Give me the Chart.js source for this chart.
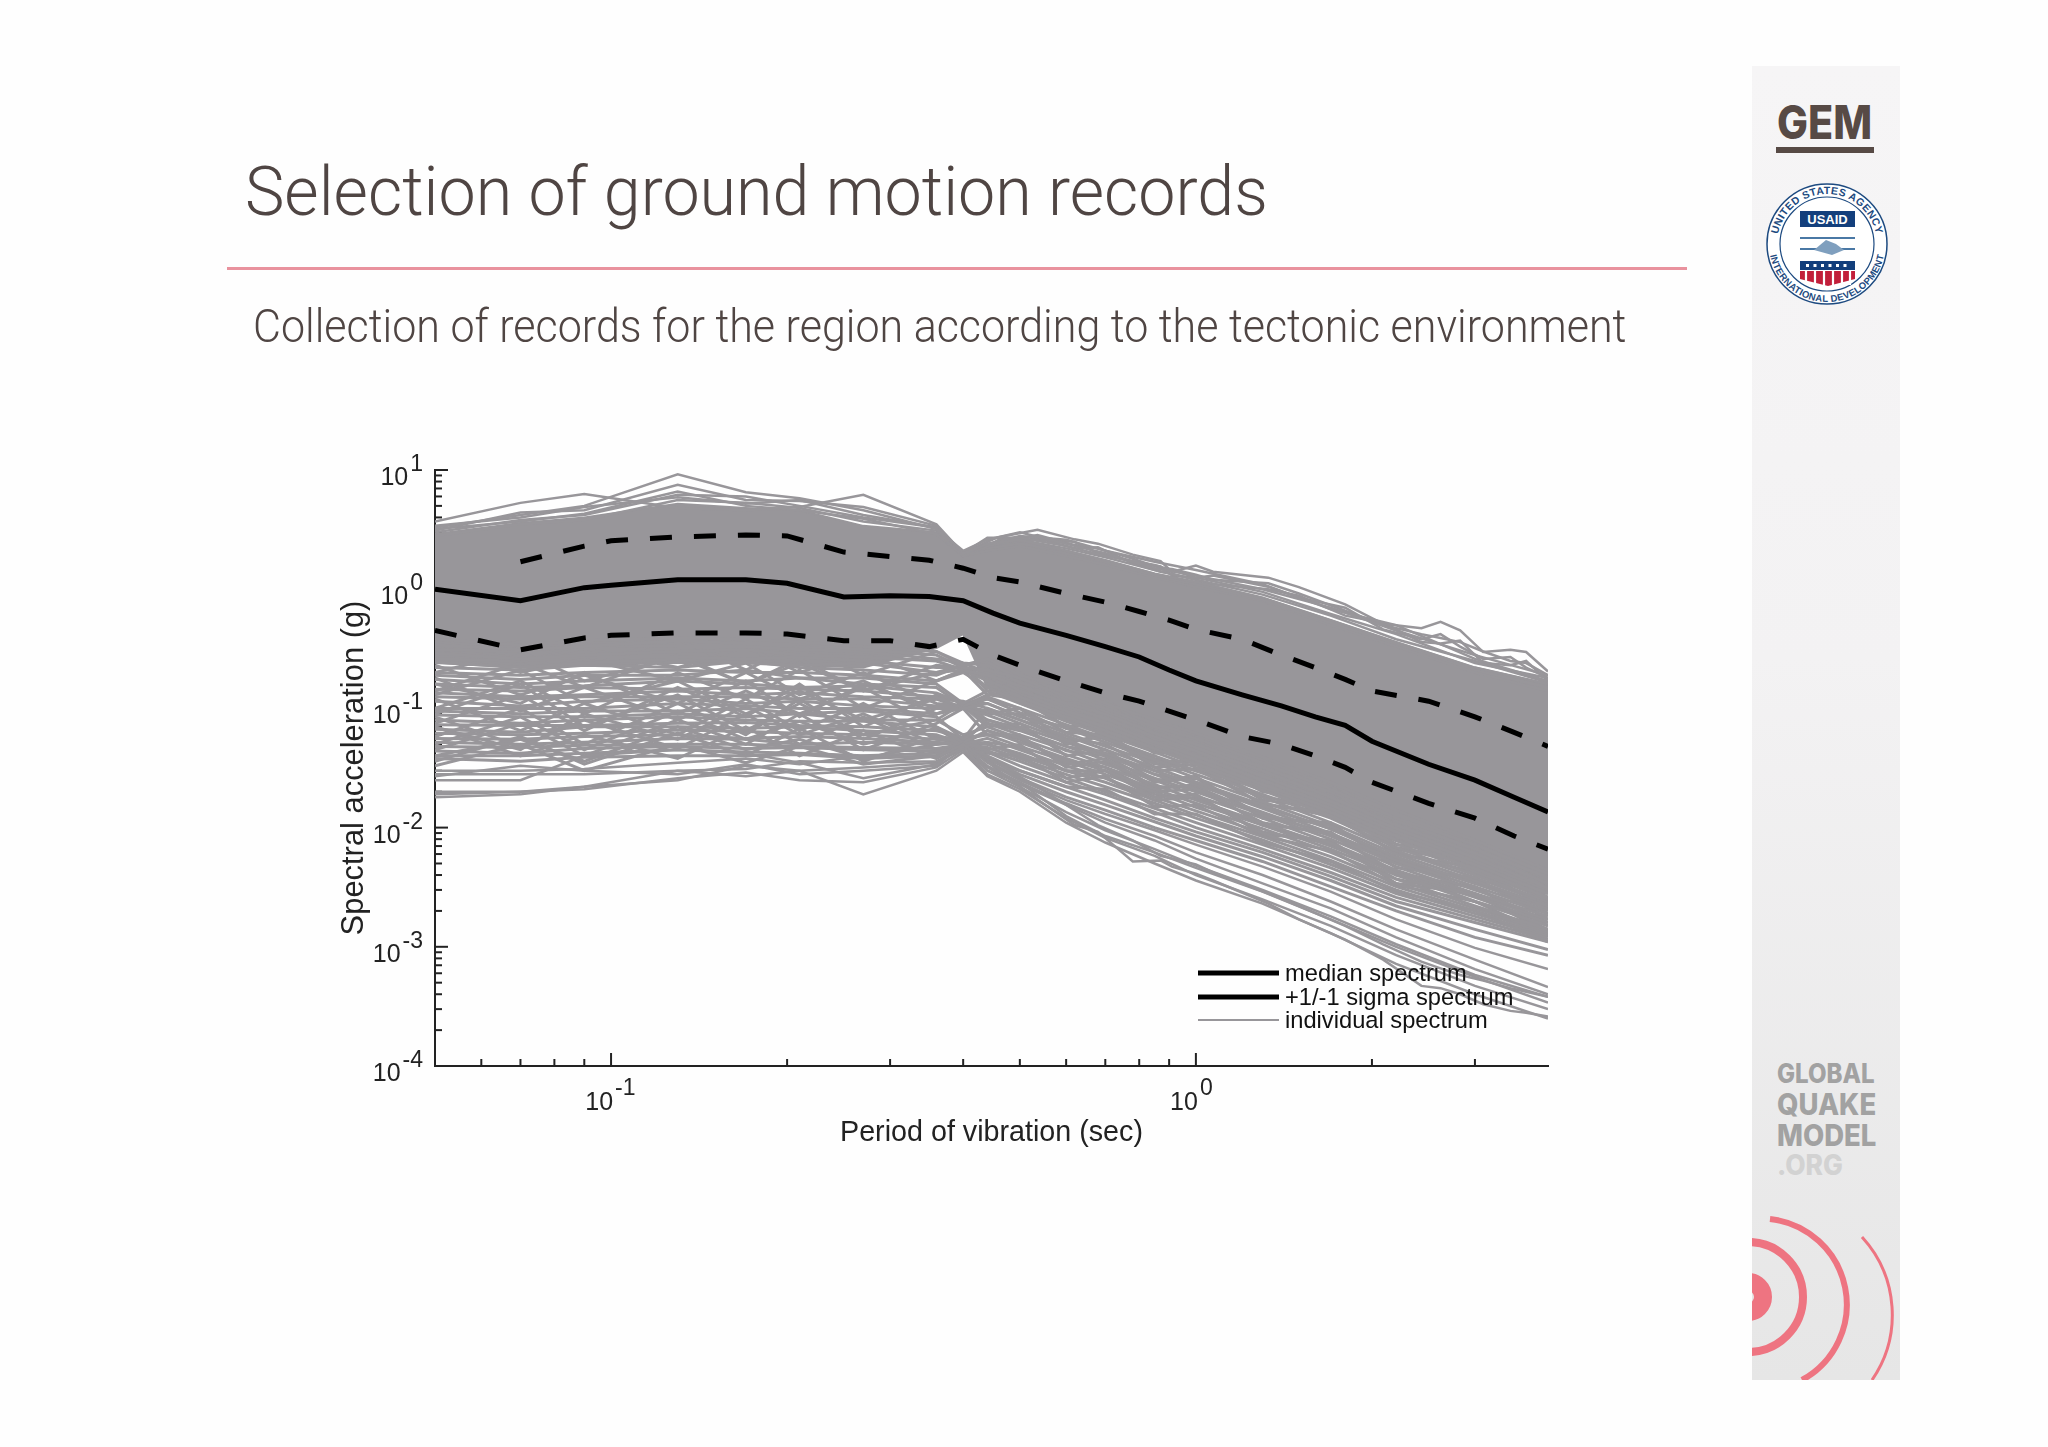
<!DOCTYPE html>
<html>
<head>
<meta charset="utf-8">
<script src="https://cdn.jsdelivr.net/npm/chart.js@4"></script>
<style>
body{margin:0;background:#fefefe;width:2048px;height:1447px;overflow:hidden;position:relative}
#c{position:absolute;left:0;top:0}
.head{position:absolute;white-space:nowrap;color:#4f4543;font-family:Roboto;font-weight:300;line-height:1;transform-origin:left top}
#rule{position:absolute;left:227px;top:267px;width:1460px;height:3px;background:#e9929e}
#side{position:absolute;left:1752px;top:66px;width:148px;height:1314px;background:linear-gradient(#f6f5f6,#f3f2f3 45%,#e6e6e6)}
.logo{position:absolute;left:1777px;font-family:Inter;font-weight:800;line-height:1;white-space:nowrap;transform-origin:left top}
#gemline{position:absolute;left:1776px;top:147px;width:98px;height:6px;background:#574a45}
#marks{position:absolute;left:0;top:0}
</style>
</head>
<body>
<canvas id="c" width="2048" height="1447"></canvas>
<div class="head" id="t1" style="left:245px;top:157px;font-size:69px">Selection of ground motion records</div>
<div id="rule"></div>
<div class="head" id="t2" style="left:253px;top:303px;font-size:46px">Collection of records for the region according to the tectonic environment</div>
<div id="side"></div>
<div class="logo" id="gem" style="top:99px;font-size:46px;color:#574a45">GEM</div>
<div id="gemline"></div>
<div class="logo" id="g1" style="top:1060px;font-size:27px;color:#a2a2a2">GLOBAL</div>
<div class="logo" id="g2" style="top:1089px;font-size:30px;color:#a2a2a2">QUAKE</div>
<div class="logo" id="g3" style="top:1120px;font-size:30px;color:#a2a2a2">MODEL</div>
<div class="logo" id="g4" style="top:1151px;font-size:28px;color:#d2d2d2">.ORG</div>
<svg id="marks" width="2048" height="1447">
<defs>
<clipPath id="sc"><rect x="1752" y="66" width="148" height="1314"/></clipPath>
<path id="arcTop" d="M1777 244a50 50 0 0 1 100 0"/>
<path id="arcBot" d="M1769 244a58 58 0 0 0 116 0"/>
</defs>
<circle cx="1827" cy="244" r="60" fill="#fff" stroke="#1d4a80" stroke-width="1.5"/>
<circle cx="1827" cy="244" r="47" fill="#fff" stroke="#1d4a80" stroke-width="1.2"/>
<text font-family="Liberation Sans" font-weight="700" font-size="10.5" fill="#1d4a80" letter-spacing=".4"><textPath href="#arcTop" startOffset="50%" text-anchor="middle">UNITED STATES AGENCY</textPath></text>
<text font-family="Liberation Sans" font-weight="700" font-size="9.5" fill="#1d4a80" letter-spacing=".3"><textPath href="#arcBot" startOffset="50%" text-anchor="middle">INTERNATIONAL DEVELOPMENT</textPath></text>
<rect x="1800" y="211" width="55" height="16" fill="#133f7c"/>
<text x="1827.5" y="224" text-anchor="middle" font-family="Liberation Sans" font-weight="700" font-size="13" fill="#fff">USAID</text>
<path d="M1800 238h55M1800 249h55" stroke="#4a78a5" stroke-width="2" fill="none"/>
<path d="M1814 250l12-10 10 4 8 6-12 5z" fill="#7f9fbe"/>
<rect x="1800" y="261" width="55" height="9" fill="#133f7c"/>
<path d="M1806 265.500h44" stroke="#fff" stroke-width="3" stroke-dasharray="3 4.500"/>
<path d="M1800 271h55v8l-27 7-28-7z" fill="#c21f3a"/>
<path d="M1806 271v14M1815 271v15M1824 271v16M1833 271v16M1842 271v15M1850 271v14" stroke="#fff" stroke-width="2.2"/>
<g clip-path="url(#sc)" fill="none" stroke="#ee7481">
<circle cx="1748" cy="1297" r="15" stroke-width="18"/>
<circle cx="1748" cy="1297" r="55" stroke-width="8"/>
<path d="M1770 1219A86 86 0 0 1 1802 1380" stroke-width="6"/>
<path d="M1862 1237A115 115 0 0 1 1872 1380" stroke-width="3"/>
</g>
</svg>
<script>
// periods (sec) of the individual spectra
const periods=[0.05,0.07,0.09,0.13,0.17,0.21,0.27,0.36,0.4,0.44,0.5,0.6,0.7,0.85,1,1.3,1.7,2.2,3,4]
// solid part of the bundle, too dense to see single records
const coreTop=[2.9,3.6,4,5.2,4.8,4.6,3.4,3,1.9,2.3,2.6,2.1,1.75,1.35,1.15,.85,.55,.36,.22,.16]
const coreBottom=[.24,.22,.23,.24,.24,.23,.22,.32,.42,.15,.11,.08,.06,.045,.034,.021,.0125,.008,.0045,.0028]
// records sticking out over the top of the bundle
const spectraUpper=[
[3.7,5.3,6.3,4.8,4.6,4.9,6.2,3.5,2,2.4,2.6,2.1,1.75,1.35,1.15,.85,.55,.36,.22,.16],
[3.3,4.2,5,9.2,6.5,5.8,4.6,3.2,2.1,2.6,3,2.4,2,1.5,1.3,1,.7,.45,.28,.19],
[3.1,4.4,4.6,7.5,5.6,5.5,4.9,3.4,1.95,2.4,2.8,2.6,2.1,1.7,1.45,1.1,.68,.5,.26,.17],
[3,3.8,4.2,6.2,6,5,4,3.3,2,2.7,2.7,2.3,1.9,1.6,1.25,.95,.62,.42,.24,.18],
[2.8,3.5,3.8,5.6,5.3,4.8,3.7,3.1,1.9,2.3,2.6,2.2,1.85,1.45,1.2,.9,.6,.38,.25,.165],
[3.4,4,4.9,5.9,5.2,5.6,4.2,3.3,2,2.2,2.4,2.1,1.7,1.3,1.1,.82,.52,.35,.21,.15],
[3.2,3.7,4.3,6.6,5,4.6,3.9,2.9,1.9,2.1,2.3,1.9,1.6,1.25,1.05,.8,.5,.33,.2,.14]
]
// records under the solid part
const spectraMiddle=[
[.38,.34,.37,.39,.38,.36,.33,.3,.23,.26,.19,.15,.11,.08,.062,.039,.024,.014,.0078,.0044],
[.34,.31,.33,.37,.35,.35,.31,.28,.22,.21,.18,.125,.1,.07,.056,.035,.021,.012,.0072,.0041],
[.31,.3,.34,.33,.33,.31,.3,.26,.24,.23,.165,.13,.095,.068,.05,.032,.02,.0115,.0066,.0038],
[.29,.26,.28,.3,.31,.28,.27,.25,.21,.19,.155,.11,.09,.062,.047,.03,.018,.0105,.0061,.0034],
[.26,.25,.27,.27,.26,.27,.25,.22,.22,.2,.14,.105,.082,.058,.044,.027,.0165,.0098,.0056,.0031],
[.245,.22,.24,.26,.24,.23,.24,.2,.21,.17,.135,.095,.076,.052,.04,.025,.0155,.0092,.0052,.003],
[.22,.21,.23,.22,.25,.22,.21,.19,.23,.175,.125,.09,.07,.05,.037,.023,.0145,.0085,.0049,.0028],
[.2,.19,.2,.21,.2,.2,.19,.17,.2,.15,.115,.085,.065,.046,.034,.022,.0135,.0078,.0045,.0026],
[.19,.175,.19,.19,.21,.18,.18,.16,.11,.14,.11,.078,.06,.043,.032,.0205,.0125,.0073,.0043,.0025],
[.175,.16,.17,.18,.17,.18,.16,.15,.105,.125,.1,.073,.056,.04,.03,.019,.012,.0068,.004,.0024],
[.16,.15,.155,.17,.16,.15,.155,.135,.11,.12,.092,.068,.052,.037,.028,.018,.011,.0064,.0038,.0023],
[.145,.14,.15,.145,.15,.145,.14,.125,.1,.11,.086,.062,.048,.035,.026,.0165,.0103,.006,.0036,.0022],
[.135,.125,.13,.14,.13,.135,.125,.12,.115,.1,.08,.059,.045,.032,.024,.0155,.0097,.0057,.0034,.0021],
[.125,.12,.125,.125,.125,.12,.12,.105,.105,.095,.075,.054,.042,.03,.023,.0145,.009,.0053,.0032,.002],
[.115,.105,.115,.12,.11,.115,.105,.1,.1,.088,.07,.052,.04,.028,.021,.0135,.0085,.005,.003,.0019],
[.1,.1,.1,.11,.105,.1,.1,.09,.11,.08,.066,.048,.037,.026,.02,.0128,.008,.0047,.0028,.0018],
[.095,.09,.095,.095,.1,.09,.095,.085,.055,.075,.06,.045,.034,.025,.0185,.012,.0074,.0044,.0027,.0017],
[.088,.085,.085,.09,.085,.09,.08,.08,.06,.07,.056,.041,.032,.023,.017,.011,.007,.0042,.0026,.0016],
[.08,.075,.08,.085,.08,.078,.078,.07,.052,.065,.052,.038,.03,.021,.016,.0105,.0066,.004,.0024,.0015],
[.073,.072,.072,.075,.076,.072,.07,.065,.057,.06,.048,.036,.028,.02,.0148,.0098,.0062,.0037,.0022,.0014],
[.067,.063,.07,.07,.068,.07,.065,.06,.05,.056,.045,.033,.026,.018,.0138,.009,.0057,.0034,.0021,.00135],
[.062,.06,.062,.066,.064,.062,.06,.055,.055,.05,.04,.03,.024,.017,.0128,.0084,.0053,.0032,.002,.0013],
[.056,.055,.058,.06,.056,.058,.056,.052,.05,.047,.038,.028,.022,.016,.012,.0079,.0049,.003,.0019,.00125],
[.052,.05,.052,.056,.055,.05,.052,.05,.052,.044,.036,.026,.02,.0145,.011,.0072,.0046,.0028,.0018,.0012],
[.048,.047,.049,.05,.05,.048,.047,.046,.05,.043,.033,.024,.019,.0135,.01,.0066,.0042,.0026,.0017,.00115],
[.044,.042,.046,.048,.046,.047,.045,.044,.048,.04,.03,.022,.017,.012,.0092,.0062,.0039,.0024,.0016,.0011],
[.04,.04,.042,.045,.043,.042,.04,.042,.05,.038,.028,.02,.0155,.0112,.0085,.0057,.0036,.0022,.0014,.00095],
[.038,.036,.039,.04,.04,.041,.038,.04,.052,.036,.026,.018,.014,.01,.0078,.0052,.0032,.002,.0012,.00085]
]
// jagged records, they cross the others and close most of the gaps
const spectraCrossing=[
[.33,.2,.26,.17,.24,.13,.2,.11,.105,.13,.12,.07,.075,.042,.045,.021,.019,.0078,.0062,.0029],
[.14,.24,.15,.28,.16,.26,.14,.23,.22,.15,.16,.08,.095,.05,.05,.024,.021,.0085,.0068,.0031],
[.23,.13,.19,.11,.2,.12,.17,.09,.1,.12,.1,.063,.06,.036,.036,.018,.015,.0068,.0052,.0025],
[.1,.17,.09,.2,.12,.21,.1,.17,.21,.13,.14,.068,.08,.043,.041,.02,.017,.0072,.0058,.0026],
[.18,.095,.15,.08,.14,.09,.15,.07,.055,.1,.08,.056,.05,.03,.031,.016,.0125,.0062,.0042,.0022],
[.075,.13,.065,.15,.085,.16,.07,.13,.11,.09,.1,.052,.058,.032,.034,.0155,.0135,.006,.0046,.0021],
[.12,.065,.11,.06,.12,.065,.11,.055,.052,.08,.068,.044,.04,.024,.026,.0125,.0105,.005,.0036,.0019],
[.058,.1,.05,.11,.06,.12,.055,.1,.105,.07,.075,.04,.045,.025,.027,.012,.011,.0046,.0038,.0017],
[.085,.048,.08,.046,.09,.05,.085,.045,.05,.065,.055,.036,.032,.02,.021,.011,.0088,.0042,.0031,.0016],
[.045,.075,.04,.08,.05,.09,.045,.075,.1,.06,.06,.032,.036,.021,.023,.0105,.0092,.004,.0032,.0015],
[.07,.04,.06,.038,.07,.04,.065,.038,.05,.05,.042,.03,.026,.017,.018,.0092,.0074,.0037,.0027,.0014],
[.036,.058,.034,.062,.04,.068,.036,.058,.055,.045,.05,.026,.03,.018,.019,.0088,.0078,.0034,.0028,.0013],
[.3,.36,.24,.38,.21,.34,.19,.3,.24,.2,.2,.11,.12,.062,.058,.03,.024,.0105,.0075,.0036],
[.37,.25,.32,.22,.33,.2,.29,.17,.21,.18,.17,.09,.1,.055,.052,.026,.022,.0092,.007,.0033],
[.2,.3,.17,.27,.16,.24,.14,.2,.23,.14,.15,.09,.085,.052,.047,.028,.018,.01,.0064,.0037],
[.16,.11,.2,.09,.17,.085,.16,.1,.11,.11,.085,.07,.055,.038,.03,.022,.0125,.0078,.0045,.0028],
[.13,.21,.11,.17,.09,.14,.08,.12,.1,.09,.09,.05,.062,.034,.036,.017,.0145,.0066,.005,.0024],
[.09,.16,.07,.13,.065,.11,.06,.08,.11,.075,.065,.048,.042,.028,.024,.015,.0098,.0055,.0034,.0021],
[.07,.045,.09,.055,.105,.06,.09,.05,.055,.06,.058,.034,.038,.022,.022,.013,.0088,.0052,.003,.0019],
[.05,.085,.045,.095,.055,.078,.05,.068,.05,.052,.047,.03,.03,.019,.0175,.0105,.0072,.0043,.0024,.0016],
[.04,.055,.036,.07,.045,.055,.038,.05,.052,.042,.04,.024,.027,.015,.0155,.0085,.0064,.0033,.0024,.00125],
[.033,.05,.03,.05,.035,.048,.034,.04,.048,.037,.03,.022,.021,.013,.013,.0075,.0052,.0029,.002,.0011]
]
// weakest records, lower edge of the bundle
const spectraLower=[
[.03,.03,.031,.035,.038,.034,.04,.039,.05,.035,.025,.017,.013,.0095,.0072,.0047,.0029,.0017,.00098,.00065],
[.028,.028,.028,.03,.031,.036,.035,.036,.048,.033,.024,.016,.0118,.0085,.0062,.004,.0024,.0014,.00078,.00046],
[.027,.033,.03,.028,.034,.028,.03,.033,.05,.032,.023,.0155,.011,.0078,.0055,.0034,.0021,.0012,.00065,.0004],
[.02,.02,.022,.03,.027,.03,.032,.035,.046,.03,.022,.0135,.0095,.0066,.0048,.003,.0018,.00105,.00058,.00038],
[.019,.02,.021,.026,.029,.025,.024,.032,.045,.028,.021,.012,.0082,.0058,.004,.0025,.0015,.00085,.00047,.0003],
[.018,.019,.022,.025,.033,.03,.019,.03,.043,.027,.02,.011,.0075,.005,.0036,.0023,.0013,.00072,.0004,.00025],
[.025,.025,.04,.045,.042,.035,.026,.034,.05,.03,.024,.0125,.0085,.0062,.0046,.0029,.0017,.001,.00056,.00034]
]
// wavy records on the outside of the bundle, long periods, read on a finer grid
const edgePeriods=[.4,.44,.46,.536,.62,.68,.78,.87,.91,1,1.07,1.33,1.5,1.8,2.09,2.43,2.62,2.83,3.1,3.45,3.67,4]
const edgeTop=[
[2,2.5,2.73,3.15,2.62,2.41,1.95,1.72,1.4,1.58,1.4,1.25,1.04,.746,.512,.471,.533,.451,.297,.31,.297,.204],
[1.9,2.4,2.5,2.85,2.35,2.2,1.8,1.5,1.48,1.32,1.2,1.12,.92,.66,.5,.42,.39,.36,.3,.25,.24,.19],
[2,2.3,2.6,2.6,2.5,2,1.7,1.55,1.3,1.25,1.3,1.05,.85,.7,.46,.38,.42,.33,.26,.27,.22,.18],
[1.95,2.2,2.3,2.7,2.2,2.25,1.65,1.4,1.35,1.2,1.1,1,.88,.6,.52,.36,.35,.37,.24,.23,.25,.17]
]
const edgeBottom=[
[.052,.036,.03,.0172,.0105,.0092,.0052,.0053,.0047,.0041,.0036,.0023,.0017,.00115,.00078,.00047,.00045,.0004,.00033,.00029,.00028,.00026],
[.05,.04,.034,.022,.014,.0105,.0078,.0058,.0055,.0049,.0042,.0028,.0022,.0015,.00105,.00075,.00066,.00058,.00052,.00045,.00042,.00038]
]
// median and +/- sigma curves
const statPeriods=[.05,.07,.09,.1,.13,.17,.2,.25,.3,.35,.4,.45,.5,.6,.7,.8,.9,1,1.2,1.4,1.6,1.8,2,2.5,3,3.5,4]
const medianSpectrum=[1,.8,1.03,1.08,1.2,1.2,1.12,.86,.88,.87,.8,.63,.52,.41,.33,.27,.21,.17,.13,.105,.085,.072,.053,.034,.025,.018,.0135]
const sigmaUpper=[null,1.7,2.3,2.55,2.75,2.85,2.8,2.05,1.88,1.75,1.5,1.25,1.15,.92,.78,.65,.55,.46,.38,.28,.22,.175,.14,.115,.085,.063,.048]
const sigmaLower=[.45,.31,.39,.41,.43,.43,.42,.37,.37,.33,.38,.28,.23,.17,.135,.115,.095,.08,.058,.05,.04,.032,.024,.016,.012,.0085,.0066]
// axes
const xMajor=[.1,1]
const xMajorExp=['-1','0']
const xMinor=[.06,.07,.08,.09,.2,.3,.4,.5,.6,.7,.8,.9,2,3]
const yMajor=[10,1,.1,.01,.001,.0001]
const yMajorExp=['1','0','-1','-2','-3','-4']
const yMinorSteps=[2,3,4,5,6,7,8,9]
const legendLabels=['median spectrum','+1/-1 sigma spectrum','individual spectrum']

const GREY='#98969a'
const pts=(xs,ys)=>xs.map((x,i)=>({x:x,y:ys[i]}))

let datasets=[
 {data:pts(statPeriods,medianSpectrum),borderColor:'#000',borderWidth:5},
 {data:pts(statPeriods,sigmaUpper),borderColor:'#000',borderWidth:5,borderDash:[22,22]},
 {data:pts(statPeriods,sigmaLower),borderColor:'#000',borderWidth:5,borderDash:[22,22]}
]
spectraUpper.concat(spectraLower).forEach(s=>datasets.push({data:pts(periods,s),borderColor:GREY,borderWidth:2.5}))
spectraMiddle.concat(spectraCrossing).forEach(s=>datasets.push({data:pts(periods,s),borderColor:GREY,borderWidth:3}))
edgeTop.concat(edgeBottom).forEach(s=>datasets.push({data:pts(edgePeriods,s),borderColor:GREY,borderWidth:2.5}))
datasets.push({data:pts(periods,coreTop),borderColor:GREY,borderWidth:2,fill:'+1',backgroundColor:GREY})
datasets.push({data:pts(periods,coreBottom),borderColor:GREY,borderWidth:2})

// matlab style ticks: pointing inwards and under the curves
const inwardTicks={id:'inwardTicks',beforeDatasetsDraw(chart){
 const c=chart.ctx,x=chart.scales.x,y=chart.scales.y
 c.save();c.strokeStyle='#222';c.lineWidth=2
 const tx=(v,l)=>{const p=x.getPixelForValue(v);c.beginPath();c.moveTo(p,y.bottom);c.lineTo(p,y.bottom-l);c.stroke()}
 const ty=(v,l)=>{const p=y.getPixelForValue(v);c.beginPath();c.moveTo(x.left,p);c.lineTo(x.left+l,p);c.stroke()}
 xMajor.forEach(v=>tx(v,13));xMinor.forEach(v=>tx(v,7))
 yMajor.forEach(v=>ty(v,13))
 yMajor.slice(1).forEach(v=>yMinorSteps.forEach(m=>ty(v*m,7)))
 c.restore()
}}

// tick labels with raised exponent, and the legend box
const powerLabels={id:'powerLabels',afterDraw(chart){
 const c=chart.ctx,x=chart.scales.x,y=chart.scales.y
 c.save();c.fillStyle='#222';c.textBaseline='alphabetic';c.textAlign='left'
 c.font='25px "Liberation Sans"'
 const w10=c.measureText('10').width
 yMajor.forEach((v,i)=>{
  const p=y.getPixelForValue(v)
  c.font='23px "Liberation Sans"'
  const we=c.measureText(yMajorExp[i]).width
  c.fillText(yMajorExp[i],423-we,p+1)
  c.font='25px "Liberation Sans"'
  c.fillText('10',423-we-w10-2,p+15)
 })
 xMajor.forEach((v,i)=>{
  const p=x.getPixelForValue(v)
  c.font='25px "Liberation Sans"'
  c.fillText('10',p-w10+2,1110)
  c.font='23px "Liberation Sans"'
  c.fillText(xMajorExp[i],p+4,1095)
 })
 // legend
 const ly=[973,997,1020]
 legendLabels.forEach((t,i)=>{
  c.strokeStyle=i==2?GREY:'#000';c.lineWidth=i==2?2.2:5
  c.beginPath();c.moveTo(1198,ly[i]);c.lineTo(1279,ly[i]);c.stroke()
  c.fillStyle='#111';c.font='23.700px "Liberation Sans"'
  c.fillText(t,1285,ly[i]+8)
 })
 c.restore()
}}

new Chart(document.getElementById('c'),{
 type:'line',
 data:{datasets:datasets},
 options:{
  responsive:false,animation:false,devicePixelRatio:1,
  parsing:false,
  layout:{padding:{left:336,right:500,top:470,bottom:297}},
  elements:{point:{radius:0},line:{tension:0,fill:false}},
  plugins:{legend:{display:false},tooltip:{enabled:false}},
  scales:{
   x:{type:'logarithmic',min:.05,max:4,grid:{display:false},
    border:{display:true,color:'#222',width:2},
    ticks:{display:false},
    title:{display:true,text:'Period of vibration (sec)',color:'#222',padding:0,font:{family:'Liberation Sans',size:28.7}},
    afterFit(s){s.height=84}},
   y:{type:'logarithmic',min:.0001,max:10,grid:{display:false},
    border:{display:true,color:'#222',width:2},
    ticks:{display:false},
    title:{display:true,text:'Spectral acceleration (g)',color:'#222',padding:0,font:{family:'Liberation Sans',size:30.9}},
    afterFit(s){s.width=99}}
  }
 },
 plugins:[inwardTicks,powerLabels]
})

// squeeze the heading fonts to the width they have in the slide
function fitWidth(id,w,h){const e=document.getElementById(id);e.style.transform='scale('+(w/e.offsetWidth)+','+(h||1)+')'}
fitWidth('t1',1023);fitWidth('t2',1373)
fitWidth('gem',95);fitWidth('g1',98);fitWidth('g2',99);fitWidth('g3',99);fitWidth('g4',66)
</script>
</body>
</html>
